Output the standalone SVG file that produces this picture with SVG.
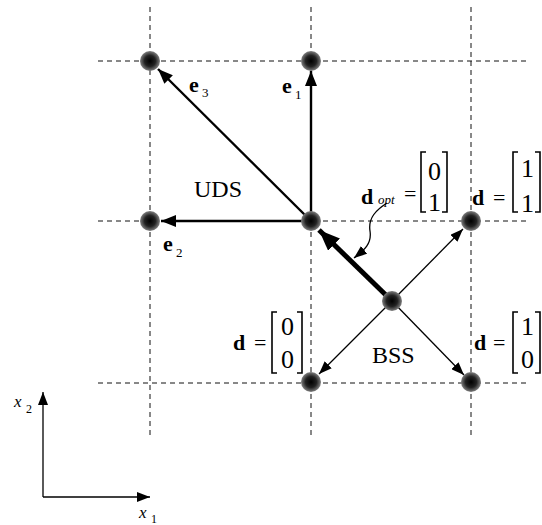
<svg xmlns="http://www.w3.org/2000/svg" width="542" height="525" viewBox="0 0 542 525">
<style>
.grid{stroke:#111;stroke-width:1;stroke-dasharray:5 4;fill:none}
.arr{stroke:#000;stroke-width:2.4;fill:none}
.thin{stroke:#000;stroke-width:1.3;fill:none}
.thick{stroke:#000;stroke-width:5;fill:none}
.t{font-family:"Liberation Serif","Times New Roman",serif;fill:#000}
.b{font-weight:bold}
.i{font-style:italic}
.br{stroke:#000;stroke-width:1.6;fill:none}
</style>
<defs>
<radialGradient id="ng" cx="50%" cy="50%" r="50%">
<stop offset="0" stop-color="#000"/>
<stop offset="0.55" stop-color="#222"/>
<stop offset="1" stop-color="#808080"/>
</radialGradient>
<marker id="ah" markerUnits="userSpaceOnUse" markerWidth="16" markerHeight="12" refX="15" refY="6" orient="auto">
<path d="M0,0 L15,6 L0,12 z" fill="#000"/>
</marker>
<marker id="ahs" markerUnits="userSpaceOnUse" markerWidth="14" markerHeight="10" refX="13" refY="5" orient="auto">
<path d="M0,0 L13,5 L0,10 z" fill="#000"/>
</marker>
<marker id="ahb" markerUnits="userSpaceOnUse" markerWidth="22" markerHeight="17" refX="21" refY="8.5" orient="auto">
<path d="M0,0 L21,8.5 L0,17 z" fill="#000"/>
</marker>
</defs>
<g id="grid">
<line class="grid" x1="150" y1="7" x2="150" y2="437"/>
<line class="grid" x1="311" y1="7" x2="311" y2="437"/>
<line class="grid" x1="471" y1="7" x2="471" y2="437"/>
<line class="grid" x1="98" y1="61" x2="526" y2="61"/>
<line class="grid" x1="98" y1="221" x2="526" y2="221"/>
<line class="grid" x1="98" y1="383" x2="526" y2="383"/>
</g>
<g id="connectors">
<line class="arr" x1="311" y1="221" x2="311" y2="71" marker-end="url(#ah)"/>
<line class="arr" x1="311" y1="221" x2="158" y2="69" marker-end="url(#ah)"/>
<line class="arr" x1="311" y1="221" x2="161" y2="221" marker-end="url(#ah)"/>
<line class="thick" x1="392" y1="301" x2="319" y2="230" marker-end="url(#ahb)"/>
<line class="thin" x1="392" y1="301" x2="463" y2="229" marker-end="url(#ahs)"/>
<line class="thin" x1="392" y1="301" x2="319" y2="374" marker-end="url(#ahs)"/>
<line class="thin" x1="392" y1="301" x2="464" y2="375" marker-end="url(#ahs)"/>
<path class="thin" d="M387,203 C376,210 368,218 370,231 C372,244 364,250 354,258" marker-end="url(#ahs)"/>
<line class="thin" x1="43" y1="497" x2="43" y2="392" marker-end="url(#ahs)"/>
<line class="thin" x1="43" y1="497" x2="150" y2="497" marker-end="url(#ahs)"/>
</g>
<g id="n1"><circle cx="150" cy="61" r="10" fill="url(#ng)"/></g>
<g id="n2"><circle cx="311" cy="61" r="10" fill="url(#ng)"/></g>
<g id="n3"><circle cx="150" cy="221" r="10" fill="url(#ng)"/></g>
<g id="n4"><circle cx="311" cy="221" r="10" fill="url(#ng)"/></g>
<g id="n5"><circle cx="471" cy="221" r="10" fill="url(#ng)"/></g>
<g id="n6"><circle cx="392" cy="301" r="10" fill="url(#ng)"/></g>
<g id="n7"><circle cx="311" cy="382" r="10" fill="url(#ng)"/></g>
<g id="n8"><circle cx="471" cy="382" r="10" fill="url(#ng)"/></g>
<g id="labels">
<text class="t b" x="189" y="92" font-size="22">e</text><text class="t" x="202" y="97" font-size="13">3</text>
<text class="t b" x="282" y="93" font-size="22">e</text><text class="t" x="295" y="99" font-size="13">1</text>
<text class="t b" x="163" y="251" font-size="22">e</text><text class="t" x="176" y="257" font-size="13">2</text>
<text class="t" x="194" y="197" font-size="24">UDS</text>
<text class="t" x="372" y="363" font-size="24">BSS</text>
<text class="t b" x="361" y="204" font-size="22">d</text><text class="t i" x="378" y="204" font-size="13">opt</text>
<text class="t" x="404" y="201" font-size="22">=</text>
<path class="br" d="M426,152 H421 V212 H426 M442,152 H447 V212 H442"/>
<text class="t" x="428" y="180" font-size="26">0</text>
<text class="t" x="428" y="211" font-size="26">1</text>
<text class="t b" x="472" y="205" font-size="22">d</text>
<text class="t" x="493" y="205" font-size="22">=</text>
<path class="br" d="M518,152 H513 V212 H518 M535,152 H540 V212 H535"/>
<text class="t" x="521" y="177" font-size="26">1</text>
<text class="t" x="521" y="212" font-size="26">1</text>
<text class="t b" x="233" y="350" font-size="22">d</text>
<text class="t" x="254" y="350" font-size="22">=</text>
<path class="br" d="M277,312 H272 V373 H277 M297,312 H302 V373 H297"/>
<text class="t" x="281" y="335" font-size="26">0</text>
<text class="t" x="281" y="368" font-size="26">0</text>
<text class="t b" x="474" y="350" font-size="22">d</text>
<text class="t" x="493" y="350" font-size="22">=</text>
<path class="br" d="M518,312 H513 V373 H518 M535,312 H540 V373 H535"/>
<text class="t" x="521" y="335" font-size="26">1</text>
<text class="t" x="521" y="368" font-size="26">0</text>
<text class="t i" x="14" y="407" font-size="17">x</text><text class="t" x="26" y="413" font-size="12">2</text>
<text class="t i" x="139" y="518" font-size="17">x</text><text class="t" x="151" y="523" font-size="12">1</text>
</g>
</svg>
